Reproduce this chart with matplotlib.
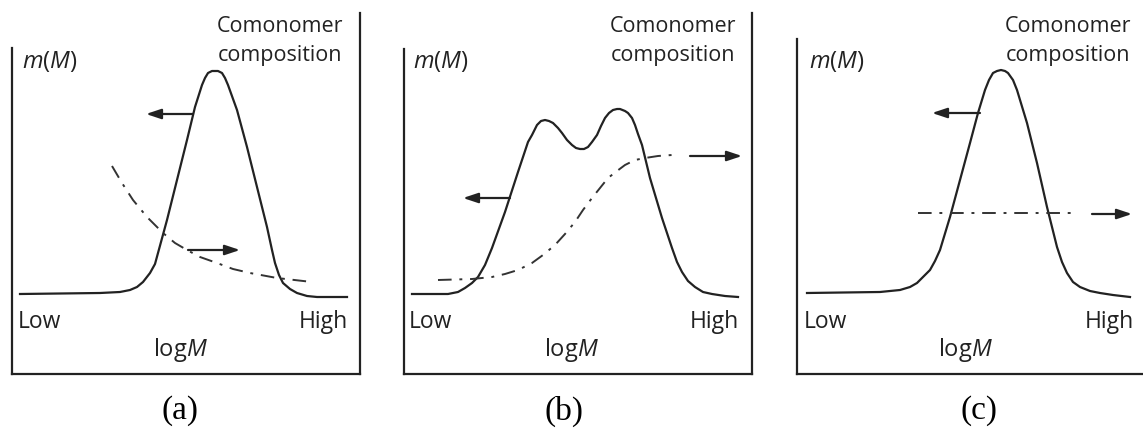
import matplotlib
matplotlib.use("Agg")
import matplotlib.pyplot as plt

plt.rcParams['font.family'] = ['Open Sans', 'DejaVu Sans']
plt.rcParams['mathtext.fontset'] = 'custom'
plt.rcParams['mathtext.rm'] = 'Open Sans'
plt.rcParams['mathtext.it'] = 'Open Sans:italic'

INK = '#222222'

# molecular weight distribution m(M) vs log M
# (x = log M position inside the box, y = height, same units for all panels)
mwd_a_x = [8, 88, 108, 118, 125, 131, 138, 143, 146, 155, 165, 175, 183, 190, 193, 196, 200, 203,
           206, 210, 213, 216, 225, 235, 245, 255, 260, 263, 267, 271, 278, 285, 295, 305, 335]
mwd_a_y = [80, 81, 82, 84, 87, 92, 101, 110, 121, 154, 194, 234, 267, 289, 296, 301, 303, 303,
           303, 301, 296, 289, 264, 227, 187, 147, 124, 111, 99, 91, 85, 81, 78, 77, 77]

mwd_b_x = [8, 44, 54, 61, 68, 74, 81, 88, 101, 114, 119, 124, 128, 133, 137, 141, 145, 149, 154,
           158, 163, 168, 172, 176, 180, 184, 188, 193, 197, 201, 205, 209, 213, 216, 221, 224,
           228, 231, 234, 238, 246, 258, 268, 273, 278, 284, 291, 299, 308, 321, 334]
mwd_b_y = [80, 80, 82, 86, 91, 97, 109, 126, 162, 202, 217, 232, 239, 249, 253, 254, 253, 251, 246,
           241, 234, 229, 226, 225, 225, 227, 232, 239, 248, 256, 261, 264, 265, 265, 263, 261,
           256, 249, 240, 229, 196, 156, 126, 112, 102, 93, 87, 82, 80, 78, 77]

mwd_c_x = [10, 83, 103, 113, 120, 126, 133, 138, 143, 153, 163, 173, 181, 188, 192, 196, 200, 204,
           208, 211, 216, 220, 230, 240, 250, 260, 265, 270, 276, 283, 293, 303, 316, 333]
mwd_c_y = [81, 82, 84, 87, 91, 97, 104, 113, 124, 157, 194, 231, 261, 284, 294, 301, 303, 304,
           303, 301, 294, 284, 251, 211, 167, 127, 112, 101, 92, 87, 83, 81, 79, 77]

# comonomer composition (dash-dot)
comp_a_x = [100, 110, 121, 135, 151, 163, 175, 188, 205, 221, 238, 265, 300]
comp_a_y = [208, 191, 174, 157, 141, 131, 124, 117, 111, 105, 101, 96, 92]

comp_b_x = [34, 68, 88, 101, 114, 128, 139, 151, 161, 171, 179, 188, 196, 204, 213, 221, 231, 241, 254, 268]
comp_b_y = [94, 95, 97, 100, 104, 111, 119, 129, 140, 152, 164, 176, 186, 196, 203, 209, 214, 216, 218, 219]

comp_c_x = [121, 278]
comp_c_y = [161, 161]

panels = [
    dict(left=12, mwd=(mwd_a_x, mwd_a_y), comp=(comp_a_x, comp_a_y),
         arr_l=((181, 260), (134, 260)), arr_r=((176, 124), (228, 124)),
         spine_top=326, right_spine=True, tag='(a)',
         mm=(10, 312), como=268, low=6, high=336, logm=168, tag_x=168),
    dict(left=404, mwd=(mwd_b_x, mwd_b_y), comp=(comp_b_x, comp_b_y),
         arr_l=((106, 176), (59, 176)), arr_r=((286, 218), (338, 218)),
         spine_top=325, right_spine=True, tag='(b)',
         mm=(9, 312), como=269, low=5, high=335, logm=167, tag_x=160),
    dict(left=797, mwd=(mwd_c_x, mwd_c_y), comp=(comp_c_x, comp_c_y),
         arr_l=((183, 261), (135, 261)), arr_r=((295, 160), (335, 160)),
         spine_top=335, right_spine=False, tag='(c)',
         mm=(12, 312), como=271, low=7, high=337, logm=168, tag_x=182),
]

W, H = 1143, 445
box_w, box_h, box_bottom = 348, 361, 374

fig = plt.figure(figsize=(W / 100, H / 100), dpi=100)

for p in panels:
    ax = fig.add_axes([p['left'] / W, (H - box_bottom) / H, box_w / W, box_h / H])
    ax.set_xlim(0, box_w)
    ax.set_ylim(0, box_h)
    ax.set_xticks([])
    ax.set_yticks([])
    ax.spines['top'].set_visible(False)
    ax.spines['right'].set_visible(p['right_spine'])
    ax.spines['left'].set_bounds(0, p['spine_top'])
    for s in ax.spines.values():
        s.set_linewidth(1.6)
        s.set_color(INK)

    ax.plot(*p['mwd'], color=INK, lw=1.6, solid_joinstyle='round')
    ax.plot(*p['comp'], color='#333333', lw=1.4, linestyle=(0, (7, 4, 1.5, 4)))

    for tail, head in (p['arr_l'], p['arr_r']):
        ax.annotate('', xy=head, xytext=tail,
                    arrowprops=dict(arrowstyle='-|>,head_length=0.9,head_width=0.3',
                                    color=INK, lw=1.6, shrinkA=0, shrinkB=0))

    ax.text(p['mm'][0], p['mm'][1], '$m$($M$)', fontsize=17, color=INK,
            ha='left', va='center')
    ax.text(p['como'], 333, 'Comonomer\ncomposition', fontsize=15.5, color=INK,
            ha='center', va='center', linespacing=1.45, clip_on=False)
    ax.text(p['low'], 52, 'Low', fontsize=16.5, color=INK, ha='left', va='center')
    ax.text(p['high'], 52, 'High', fontsize=16.5, color=INK, ha='right', va='center')
    ax.text(p['logm'], 24, 'log$M$', fontsize=17, color=INK, ha='center', va='center')
    ax.text(p['tag_x'], -37, p['tag'], fontsize=24, color='black',
            family='Liberation Serif', ha='center', va='center', clip_on=False)

fig.savefig('out.png', dpi=100, facecolor='white')
